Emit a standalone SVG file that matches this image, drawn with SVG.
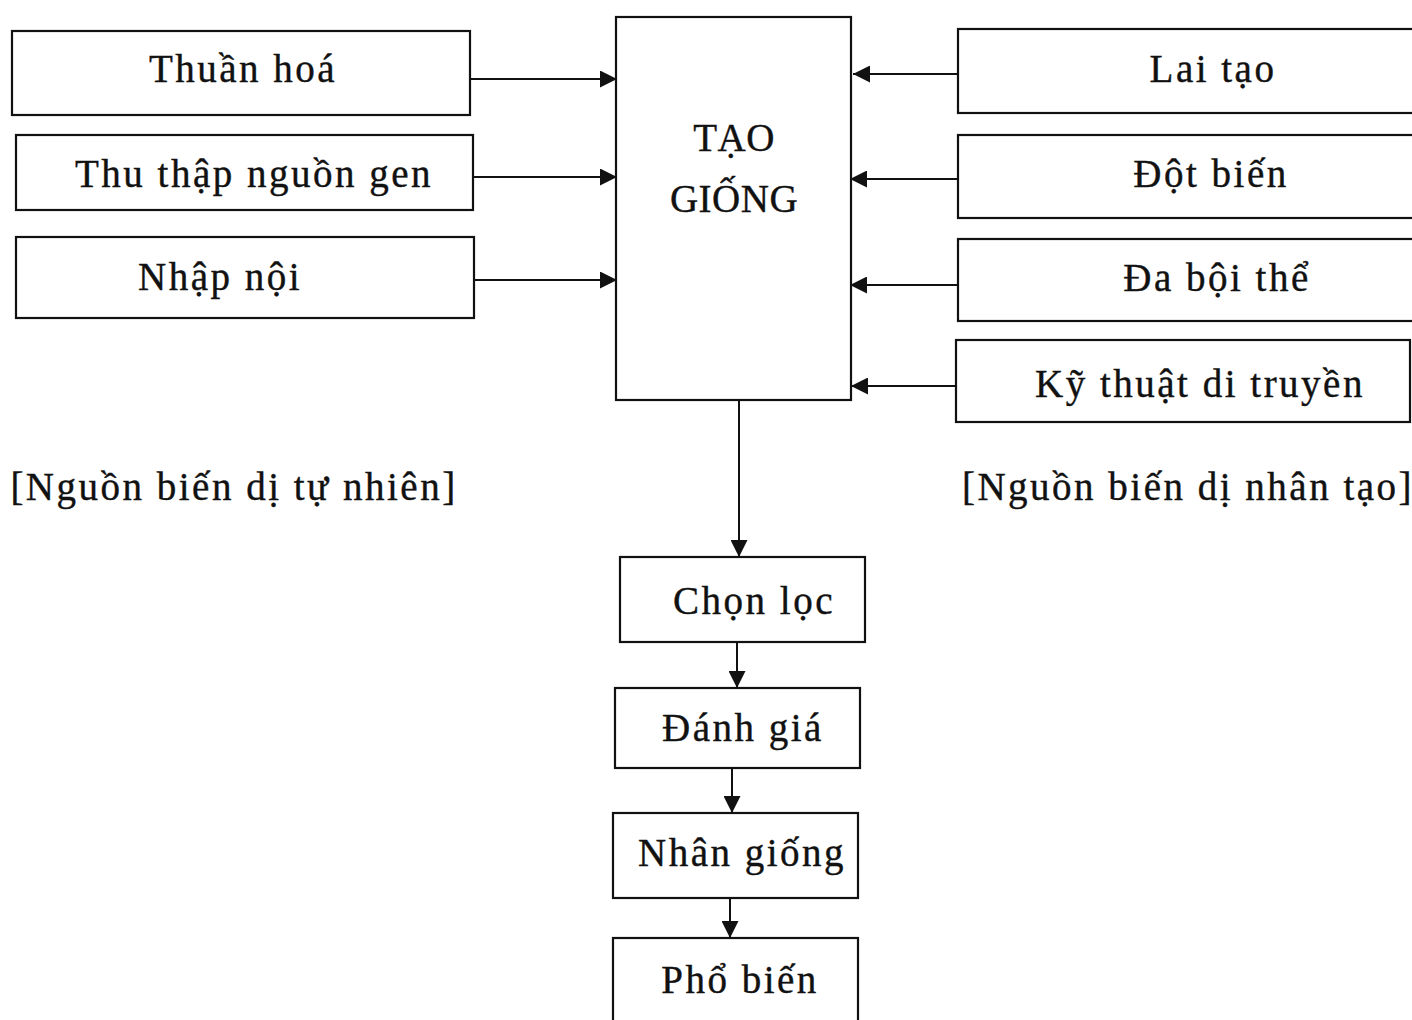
<svg xmlns="http://www.w3.org/2000/svg" width="1412" height="1020" viewBox="0 0 1412 1020">
<style>
.box{fill:#fff;stroke:#111;stroke-width:2.2}
.t{font-family:"Liberation Serif","Times New Roman",serif;font-size:39px;fill:#111;stroke:#111;stroke-width:0.4;text-anchor:middle;letter-spacing:2.5px}
.n{letter-spacing:0.5px}
.c{stroke:#111;stroke-width:2;fill:none;marker-end:url(#ah)}
</style>
<defs>
<marker id="ah" viewBox="0 0 10 10" refX="10" refY="5" markerUnits="userSpaceOnUse" markerWidth="18" markerHeight="17" orient="auto">
<path d="M0,0 L10,5 L0,10 Z" fill="#111"/>
</marker>
</defs>
<rect width="1412" height="1020" fill="#fff"/>
<g id="connectors">
<line class="c" x1="471" y1="79" x2="617" y2="79"/>
<line class="c" x1="474" y1="177" x2="617" y2="177"/>
<line class="c" x1="474" y1="280" x2="617" y2="280"/>
<line class="c" x1="958" y1="74" x2="853" y2="74"/>
<line class="c" x1="958" y1="179" x2="850" y2="179"/>
<line class="c" x1="958" y1="285" x2="850" y2="285"/>
<line class="c" x1="956" y1="386" x2="851" y2="386"/>
<line class="c" x1="739" y1="401" x2="739" y2="557"/>
<line class="c" x1="737" y1="642" x2="737" y2="688"/>
<line class="c" x1="732" y1="768" x2="732" y2="813"/>
<line class="c" x1="730" y1="898" x2="730" y2="938"/>
</g>
<g id="thuan-hoa"><rect class="box" x="12" y="31" width="458" height="84"/><text class="t" x="243" y="82">Thuần hoá</text></g>
<g id="thu-thap"><rect class="box" x="16" y="135" width="457" height="75"/><text class="t" x="254" y="187">Thu thập nguồn gen</text></g>
<g id="nhap-noi"><rect class="box" x="16" y="237" width="458" height="81"/><text class="t" x="220" y="290">Nhập nội</text></g>
<g id="tao-giong"><rect class="box" x="616" y="17" width="235" height="383"/><text class="t n" x="734" y="151">TẠO</text><text class="t n" x="734" y="212">GIỐNG</text></g>
<g id="lai-tao"><rect class="box" x="958" y="29" width="456" height="84"/><text class="t" x="1213" y="82">Lai tạo</text></g>
<g id="dot-bien"><rect class="box" x="958" y="135" width="456" height="83"/><text class="t" x="1211" y="187">Đột biến</text></g>
<g id="da-boi-the"><rect class="box" x="958" y="239" width="456" height="82"/><text class="t" x="1217" y="291">Đa bội thể</text></g>
<g id="ky-thuat"><rect class="box" x="956" y="340" width="454" height="82"/><text class="t" x="1200" y="397">Kỹ thuật di truyền</text></g>
<g id="label-tu-nhien"><text class="t" x="234" y="500">[Nguồn biến dị tự nhiên]</text></g>
<g id="label-nhan-tao"><text class="t" x="1188" y="500">[Nguồn biến dị nhân tạo]</text></g>
<g id="chon-loc"><rect class="box" x="620" y="557" width="245" height="85"/><text class="t" x="754" y="614">Chọn lọc</text></g>
<g id="danh-gia"><rect class="box" x="615" y="688" width="245" height="80"/><text class="t" x="743" y="741">Đánh giá</text></g>
<g id="nhan-giong"><rect class="box" x="613" y="813" width="245" height="85"/><text class="t" x="742" y="866">Nhân giống</text></g>
<g id="pho-bien"><rect class="box" x="613" y="938" width="245" height="90"/><text class="t" x="740" y="993">Phổ biến</text></g>
</svg>
